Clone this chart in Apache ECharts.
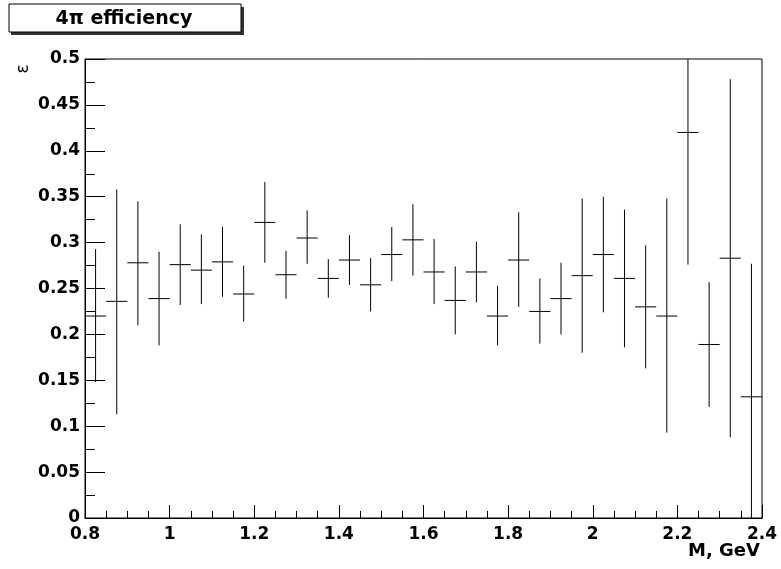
<!DOCTYPE html>
<html>
<head>
<meta charset="utf-8">
<script src="https://cdn.jsdelivr.net/npm/echarts@6/dist/echarts.min.js"></script>
<style>
html, body { margin: 0; padding: 0; background: #fff; }
#chart { width: 781px; height: 569px; }
</style>
</head>
<body>
<div id="chart"></div>
<script>
// bin centres (M, GeV), bin width 0.05
var binCenters = [0.825, 0.875, 0.925, 0.975, 1.025, 1.075, 1.125, 1.175, 1.225, 1.275,
  1.325, 1.375, 1.425, 1.475, 1.525, 1.575, 1.625, 1.675, 1.725, 1.775,
  1.825, 1.875, 1.925, 1.975, 2.025, 2.075, 2.125, 2.175, 2.225, 2.275,
  2.325, 2.375]
var binWidth = 0.05
// efficiency per bin
var effValues = [0.220, 0.236, 0.278, 0.239, 0.276, 0.270, 0.279, 0.244, 0.322, 0.265,
  0.305, 0.261, 0.281, 0.254, 0.287, 0.303, 0.268, 0.237, 0.268, 0.220,
  0.281, 0.225, 0.239, 0.264, 0.287, 0.261, 0.230, 0.220, 0.420, 0.189,
  0.283, 0.132]
// lower / upper ends of error bars
var errLow = [0.148, 0.113, 0.210, 0.188, 0.232, 0.233, 0.241, 0.214, 0.278, 0.239,
  0.277, 0.240, 0.254, 0.225, 0.258, 0.264, 0.233, 0.200, 0.235, 0.188,
  0.230, 0.190, 0.200, 0.180, 0.224, 0.186, 0.163, 0.093, 0.276, 0.121,
  0.088, 0.000]
var errHigh = [0.293, 0.358, 0.345, 0.290, 0.320, 0.309, 0.317, 0.275, 0.366, 0.291,
  0.335, 0.282, 0.308, 0.283, 0.317, 0.342, 0.304, 0.274, 0.301, 0.253,
  0.333, 0.261, 0.278, 0.348, 0.350, 0.336, 0.297, 0.348, 0.564, 0.257,
  0.478, 0.277]

var seriesData = binCenters.map(function (c, i) {
  return [c, effValues[i], errLow[i], errHigh[i]]
})

var font = '"DejaVu Sans", Verdana, sans-serif'

function renderBin(params, api) {
  var c = api.value(0)
  var v = api.value(1)
  var left = api.coord([c - binWidth / 2, v])
  var right = api.coord([c + binWidth / 2, v])
  var top = api.coord([c, api.value(3)])
  var bottom = api.coord([c, api.value(2)])
  var style = { stroke: '#000', lineWidth: 1, fill: null }
  return {
    type: 'group',
    children: [
      { type: 'line', shape: { x1: left[0], y1: left[1], x2: right[0], y2: right[1] }, style: style },
      { type: 'line', shape: { x1: top[0], y1: top[1], x2: bottom[0], y2: bottom[1] }, style: style }
    ]
  }
}

var chart = echarts.init(document.getElementById('chart'))
chart.setOption({
  animation: false,
  backgroundColor: '#fff',
  grid: {
    left: 85, right: 19, top: 59, bottom: 51,
    show: true, borderColor: '#000', borderWidth: 1, backgroundColor: 'transparent'
  },
  xAxis: {
    type: 'value',
    min: 0.8, max: 2.4, interval: 0.2,
    axisLine: { show: true, onZero: false, lineStyle: { color: '#000', width: 1 } },
    axisTick: { show: true, inside: true, length: 13, lineStyle: { color: '#000' } },
    minorTick: { show: true, splitNumber: 4, length: 7, lineStyle: { color: '#000' } },
    splitLine: { show: false },
    axisLabel: { color: '#000', fontFamily: font, fontWeight: 'bold', fontSize: 17, margin: 8, showMinLabel: true, showMaxLabel: true }
  },
  yAxis: {
    type: 'value',
    min: 0, max: 0.5, interval: 0.05,
    axisLine: { show: true, onZero: false, lineStyle: { color: '#000', width: 1 } },
    axisTick: { show: true, inside: true, length: 20, lineStyle: { color: '#000' } },
    minorTick: { show: true, splitNumber: 2, length: 10, lineStyle: { color: '#000' } },
    splitLine: { show: false },
    axisLabel: { color: '#000', fontFamily: font, fontWeight: 'bold', fontSize: 17, margin: 5 }
  },
  series: [{
    type: 'custom',
    clip: true,
    renderItem: renderBin,
    data: seriesData
  }],
  graphic: [
    { type: 'rect', shape: { x: 11, y: 7, width: 233, height: 28 }, style: { fill: '#333' } },
    { type: 'rect', shape: { x: 9, y: 4, width: 232, height: 28 }, style: { fill: '#fff', stroke: '#000', lineWidth: 1 } },
    {
      type: 'text', x: 124, y: 19,
      style: {
        text: '4π efficiency', x: 0, y: 0, align: 'center', verticalAlign: 'middle',
        fill: '#000', font: 'bold 19px ' + font
      }
    },
    {
      type: 'text', x: 24, y: 69, rotation: Math.PI / 2,
      style: {
        text: 'ε', align: 'center', verticalAlign: 'middle',
        fill: '#000', font: '17px ' + font
      }
    },
    {
      type: 'text', x: 760, y: 551,
      style: {
        text: 'M, GeV', align: 'right', verticalAlign: 'middle',
        fill: '#000', font: 'bold 18px ' + font
      }
    }
  ]
})
</script>
</body>
</html>
